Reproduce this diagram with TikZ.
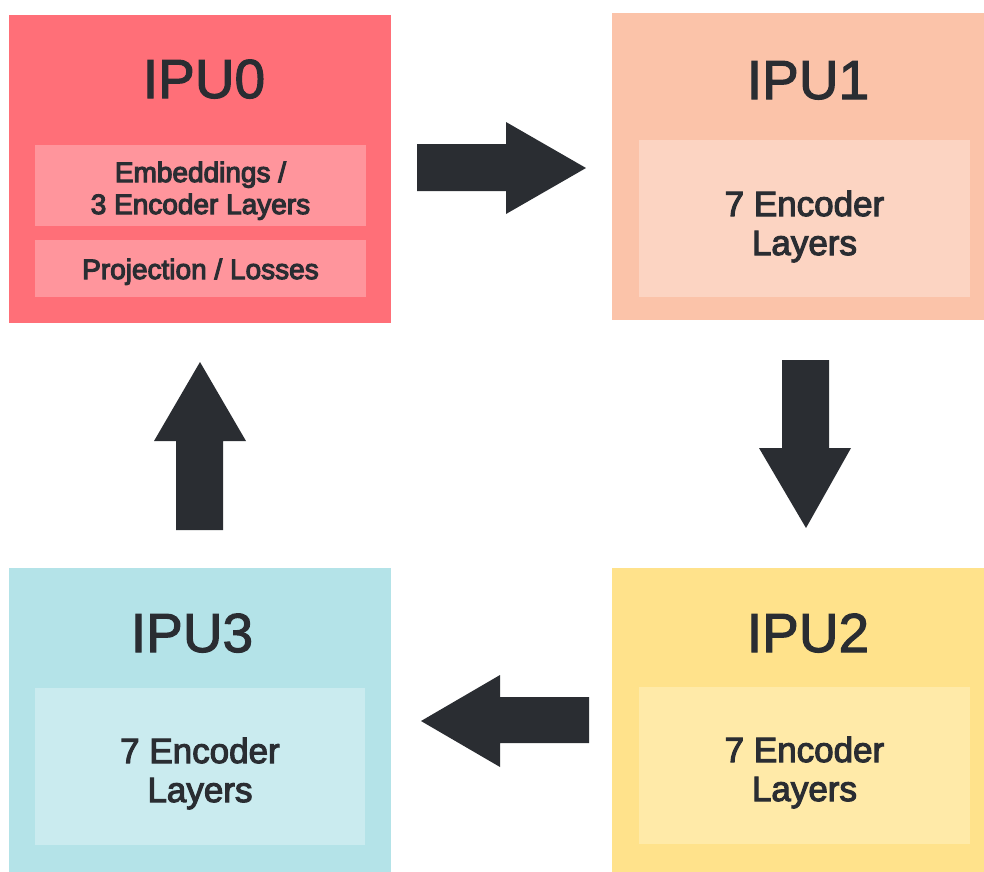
\documentclass[tikz,border=0pt]{standalone}
\usepackage{fontspec}
\setmainfont{Liberation Sans}
\usepackage{xcolor}

\definecolor{redout}{HTML}{FF6F78}
\definecolor{redin}{HTML}{FF959C}
\definecolor{peachout}{HTML}{FBC3A9}
\definecolor{peachin}{HTML}{FCD4C2}
\definecolor{yellowout}{HTML}{FFE28B}
\definecolor{yellowin}{HTML}{FFEAA8}
\definecolor{cyanout}{HTML}{B4E3E8}
\definecolor{cyanin}{HTML}{CAEBEF}
\definecolor{darkgray}{HTML}{2A2D32}

% a slightly heavier text: fill and stroke the glyphs
\newcommand\medtext[1]{\special{pdf:literal direct 2 Tr 1.1 w}#1\special{pdf:literal direct 0 Tr}}

\begin{document}
\begin{tikzpicture}[x=1pt, y=-1pt,
				   box/.style={rectangle, anchor=north west, inner sep=0pt, outer sep=0pt},
				   title/.style={anchor=base, inner sep=0pt, text=darkgray, font=\fontsize{55}{60}\selectfont},
				   layer/.style={anchor=base, inner sep=0pt, text=darkgray, align=center, font=\fontsize{35}{39}\selectfont},
				   small layer/.style={layer, font=\fontsize{28}{32}\selectfont},
				   blockarrow/.style={fill=darkgray}]
\useasboundingbox (0,0) rectangle (984,871);
\clip (0,0) rectangle (984,871);

% IPU boxes
\node[box, fill=redout, minimum width=382pt, minimum height=308pt] (ipu0) at (9,15) {};
\node[box, fill=peachout, minimum width=388pt, minimum height=307pt] (ipu1) at (612,13) {};
\node[box, fill=yellowout, minimum width=388pt, minimum height=310pt] (ipu2) at (612,568) {};
\node[box, fill=cyanout, minimum width=382pt, minimum height=310pt] (ipu3) at (9,568) {};

% inner boxes
\node[box, fill=redin, minimum width=331pt, minimum height=81pt] (emb) at (35,145) {};
\node[box, fill=redin, minimum width=331pt, minimum height=57pt] (proj) at (35,240) {};
\node[box, fill=peachin, minimum width=331pt, minimum height=157pt] (in1) at (639,140) {};
\node[box, fill=yellowin, minimum width=331pt, minimum height=157pt] (in2) at (639,687) {};
\node[box, fill=cyanin, minimum width=330pt, minimum height=157pt] (in3) at (35,688) {};

% titles
\node[title] (t0) at ([xshift=4pt,yshift=-83pt]ipu0.north) {\medtext{IPU0}};
\node[title] (t1) at ([xshift=2pt,yshift=-86pt]ipu1.north) {\medtext{IPU1}};
\node[title] (t2) at ([xshift=2pt,yshift=-84pt]ipu2.north) {\medtext{IPU2}};
\node[title] (t3) at ([xshift=-8pt,yshift=-84pt]ipu3.north) {\medtext{IPU3}};

% layer texts (base = last line)
\node[small layer] (l0a) at ([yshift=-69pt]emb.north) {\medtext{Embeddings /}\\\medtext{3 Encoder Layers}};
\node[small layer] (l0b) at ([yshift=-39pt]proj.north) {\medtext{Projection / Losses}};
\node[layer] (l1) at ([yshift=-115pt]in1.north) {\medtext{7 Encoder}\\\medtext{Layers}};
\node[layer] (l2) at ([yshift=-114pt]in2.north) {\medtext{7 Encoder}\\\medtext{Layers}};
\node[layer] (l3) at ([yshift=-114pt]in3.north) {\medtext{7 Encoder}\\\medtext{Layers}};

% arrows
\fill[blockarrow] (417,144) -- (506,144) -- (506,122) -- (586,168) -- (506,214) -- (506,191) -- (417,191) -- cycle;
\fill[blockarrow] (782,360) -- (829,360) -- (829,448) -- (851,448) -- (806,528) -- (759,448) -- (782,448) -- cycle;
\fill[blockarrow] (589,697) -- (500,697) -- (500,675) -- (421,721) -- (500,767) -- (500,743) -- (589,743) -- cycle;
\fill[blockarrow] (176,530) -- (176,441) -- (154,441) -- (200,362) -- (246,441) -- (223,441) -- (223,530) -- cycle;
\end{tikzpicture}
\end{document}
